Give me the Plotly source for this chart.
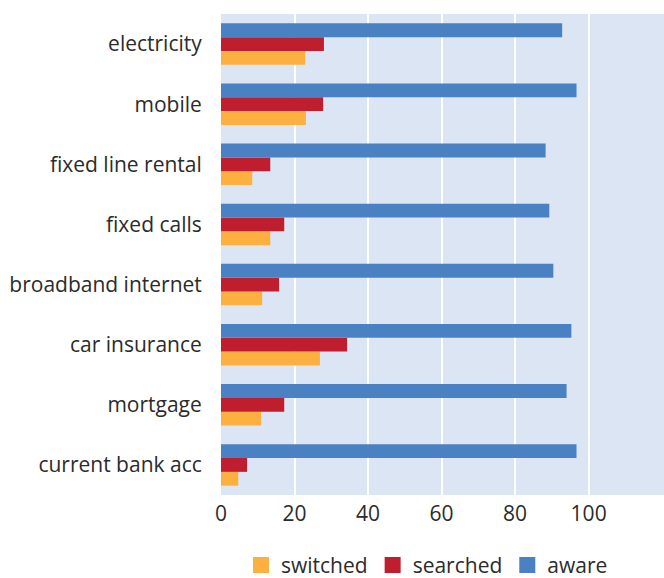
import plotly.graph_objects as go

categories = ["electricity", "mobile", "fixed line rental", "fixed calls",
              "broadband internet", "car insurance", "mortgage", "current bank acc"]
switched = [22.9, 23.1, 8.5, 13.4, 11.2, 26.9, 10.9, 4.7]
searched = [28.0, 27.8, 13.4, 17.2, 15.8, 34.3, 17.2, 7.1]
aware = [92.8, 96.7, 88.3, 89.3, 90.4, 95.3, 94.0, 96.7]
x_ticks = [0, 20, 40, 60, 80, 100]

series = [("switched", switched, "#FBB040"),
          ("searched", searched, "#BE1E2D"),
          ("aware", aware, "#4A81C2")]

fig = go.Figure()
for name, vals, color in series:
    fig.add_trace(go.Bar(y=categories, x=vals, name=name, orientation="h",
                         marker=dict(color=color, line=dict(width=0)), showlegend=False))
for name, vals, color in series:
    fig.add_trace(go.Scatter(x=[None], y=[None], mode="markers", name=name,
                             marker=dict(symbol="square", size=19, color=color),
                             showlegend=True))

fig.update_layout(
    width=664, height=578,
    margin=dict(l=221, r=0, t=14, b=83, autoexpand=False),
    barmode="group", bargap=0.31, bargroupgap=0,
    plot_bgcolor="#DBE5F3", paper_bgcolor="white",
    font=dict(family="Open Sans", size=21, color="#2b2b2b"),
    legend=dict(orientation="h", x=0.465, xanchor="center", y=0.022, yanchor="middle",
                yref="container", font=dict(size=21), itemwidth=30, traceorder="normal"),
    showlegend=True,
)
fig.update_xaxes(range=[0, 120.5], tickvals=x_ticks, showgrid=True, gridcolor="white",
                 gridwidth=2, zeroline=False, ticks="outside", ticklen=0, tickcolor="rgba(0,0,0,0)",
                 showline=False)
fig.update_yaxes(categoryorder="array", categoryarray=categories[::-1], showgrid=False,
                 ticks="outside", ticklen=14, tickcolor="rgba(0,0,0,0)", showline=False)

fig.write_html("out.html")
